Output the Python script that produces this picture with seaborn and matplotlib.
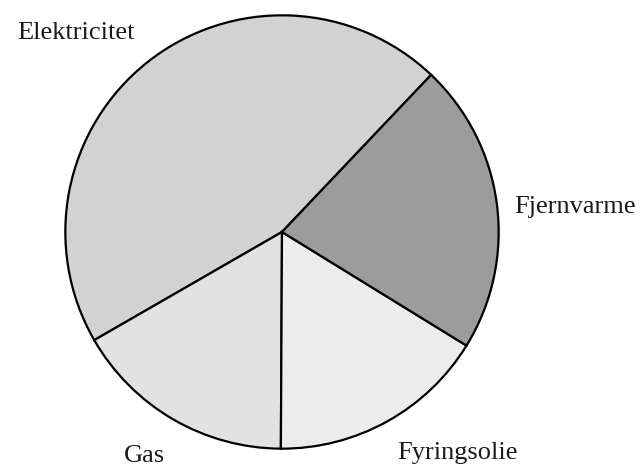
import matplotlib
matplotlib.use('agg')
from matplotlib import pyplot as plt
import seaborn as sns

# energy sources, counterclockwise starting at the upper right boundary
labels = ['Elektricitet', 'Gas', 'Fyringsolie', 'Fjernvarme']
shares = [45.4, 16.6, 16.3, 21.7]
colors = ['#d2d2d2', '#e2e2e2', '#ececec', '#9c9c9c']
# label anchor (left, baseline) in pie units
label_x = [-1.22, -0.73, 0.53, 1.07]
label_y = [0.89, -1.06, -1.05, 0.09]

sns.set_theme(style="white")
plt.rcParams['font.family'] = ['Liberation Serif', 'DejaVu Serif']

fig = plt.figure(figsize=(6.43, 4.71), dpi=100)
ax = fig.add_axes([61 / 643, 18 / 471, 442 / 643, 442 / 471])

ax.pie(shares, colors=colors, startangle=46.5, counterclock=True,
       wedgeprops=dict(edgecolor='black', linewidth=1.6))
ax.set_xlim(-1.02, 1.02)
ax.set_ylim(-1.02, 1.02)
ax.set_aspect('equal')
ax.axis('off')

for name, x, y in zip(labels, label_x, label_y):
    ax.text(x, y, name, ha='left', va='baseline', fontsize=19,
            color='#1a1a1a', clip_on=False)

fig.savefig('out.png', dpi=100)
plt.close(fig)
